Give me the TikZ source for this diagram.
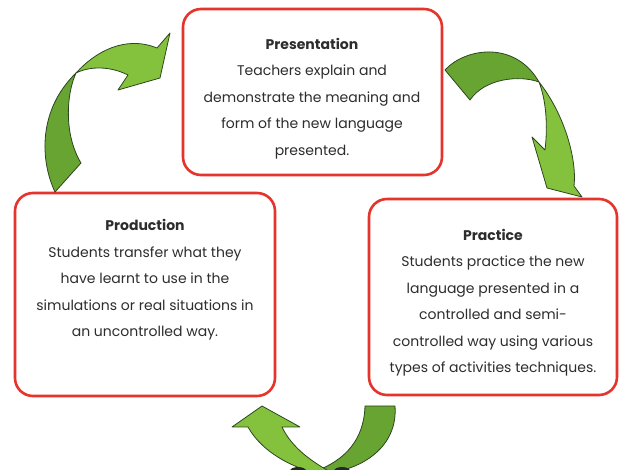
\documentclass[tikz,border=0pt]{standalone}
\usepackage{fontspec}
\setmainfont{Poppins}
\definecolor{boxred}{RGB}{228,52,44}
\definecolor{txtgray}{RGB}{45,45,45}
\definecolor{glight}{RGB}{132,194,62}
\definecolor{gdark}{RGB}{104,164,50}
\definecolor{gline}{RGB}{45,70,30}
\tikzset{
  cyclebox/.style={draw=boxred, line width=2.6pt, rounded corners=18pt, fill=white},
  txt/.style={align=center, text=txtgray, font=\fontsize{14}{26.5}\selectfont},
  blockarrow/.style={draw=gline, line width=0.8pt, line join=round},
}
\begin{document}
\begin{tikzpicture}[x=1pt,y=-1pt]
\useasboundingbox (0,0) rectangle (619,470);
% boxes
\node[cyclebox, minimum width=259pt, minimum height=166pt] (presbox) at (312.5,92) {};
\node[cyclebox, minimum width=260pt, minimum height=203pt] (prodbox) at (145,294.5) {};
\node[cyclebox, minimum width=248pt, minimum height=196pt] (pracbox) at (493,297) {};
% texts
\node[txt] (prestxt) at (312,98.5) {\textbf{Presentation}\\Teachers explain and\\demonstrate the meaning and\\form of the new language\\presented.};
\node[txt] (prodtxt) at (145,280) {\textbf{Production}\\Students transfer what they\\have learnt to use in the\\simulations or real situations in\\an uncontrolled way.};
\node[txt] (practxt) at (493,302.5) {\textbf{Practice}\\Students practice the new\\language presented in a\\controlled and semi-\\controlled way using various\\types of activities techniques.};
% arrow 1: production -> presentation (top left)
\fill[gdark, blockarrow] (55,192) .. controls (40,160) and (38,110) .. (76,73)
   .. controls (66,95) and (64,135) .. (81,163) -- cycle;
\fill[glight, blockarrow] (76,73) .. controls (95,52) and (125,35) .. (157,48)
   -- (170,33) -- (160,78) -- (118,90) -- (128,75)
   .. controls (110,66) and (90,66) .. (76,73) -- cycle;
% arrow 2: presentation -> practice (top right)
\fill[gdark, blockarrow] (445,70) .. controls (465,48) and (515,40) .. (539,82)
   .. controls (520,75) and (485,78) .. (470,100) -- cycle;
\fill[glight, blockarrow] (539,82) .. controls (565,115) and (577,160) .. (574,186)
   -- (582,197) -- (547,188) -- (532,137) -- (545,150)
   .. controls (548,125) and (546,100) .. (539,82) -- cycle;
% arrow 3: practice -> production (bottom)
\fill[gdark, blockarrow] (365,406) -- (395,406)
   .. controls (398,445) and (365,470) .. (322,474)
   -- (316,471) .. controls (345,460) and (364,440) .. (365,406) -- cycle;
\fill[glight, blockarrow] (262,406) -- (300,427) -- (282,427)
   .. controls (292,448) and (312,462) .. (334,474)
   -- (320,474) .. controls (292,468) and (262,452) .. (248,427)
   -- (232,427) -- cycle;
\fill[black!85] (298,471) ellipse (8pt and 4pt);
\fill[black!85] (342,471) ellipse (8pt and 4pt);
\end{tikzpicture}
\end{document}
